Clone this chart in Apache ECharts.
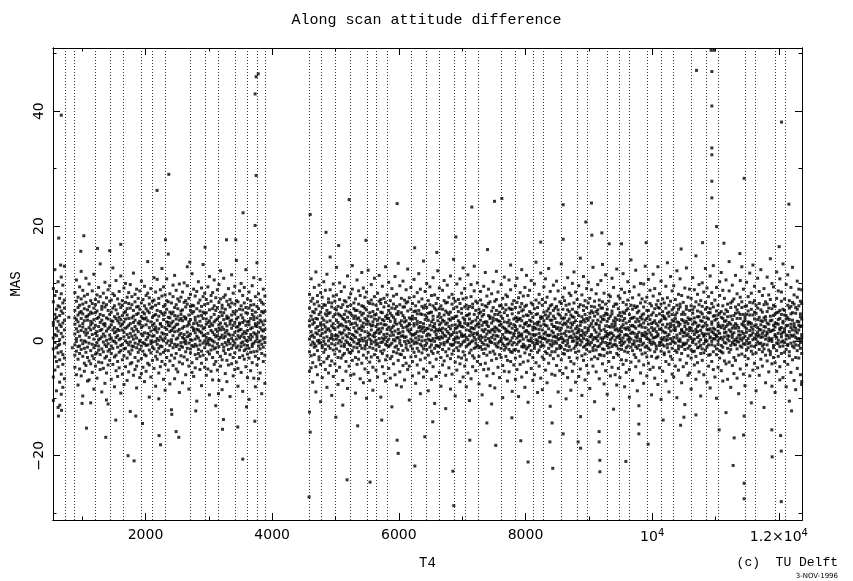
<!DOCTYPE html>
<html>
<head>
<meta charset="utf-8">
<script src="https://cdn.jsdelivr.net/npm/echarts@6/dist/echarts.min.js"></script>
<style>
  html, body { margin: 0; padding: 0; background: #fff; }
  #ec { width: 853px; height: 581px; }
</style>
</head>
<body>
<div id="ec"></div>
<script>
// axis ranges (T4, MAS)
var xMin = 540, xMax = 12365;
var yMin = -31.2, yMax = 51.0;
var xTickLabels = [2000, 4000, 6000, 8000, 10000, 12000];
var yTickLabels = [-20, 0, 20, 40];

// dotted vertical lines (T4)
var orbitLines = [730, 880, 1210, 1450, 1650, 1940, 2110, 2320, 2700, 2940, 3150, 3410, 3610, 3770, 3895,
  4585, 4775, 4995, 5230, 5495, 5650, 5815, 6195, 6425, 6645, 6880, 7045, 7250, 7610, 7840, 8120, 8280,
  8570, 8810, 8975, 9295, 9485, 9645, 9925, 10140, 10335, 10610, 10860, 11040, 11465, 11630, 11940, 12105];

// dense band, one row per T4 column: [T4, MAS, MAS, ...]
var bandA = [
  [545, 3.2, -1.4, 6.8, 0.5, -6.3, 9.1, 2.7, -10.4],
  [570, 1.1, 4.6, -2.8, 7.9, -0.3, 12.4, -5.1, 3.8],
  [595, -3.6, 2.2, 5.5, -8.7, 0.9, 4.1, 8.6, -1.2],
  [620, 6.1, -0.8, 3.4, -4.5, 10.3, 1.7, -2.1, -11.6],
  [645, 0.2, 5.9, -3.3, 2.8, 7.4, -7.2, 4.4, -0.6],
  [670, 2.5, -5.8, 8.2, 1.3, -1.9, 5.2, 11.1, -9.3],
  [695, 4.8, -2.4, 0.7, 6.6, -4.1, 3.1, -8.1, 9.7],
  [720, -0.4, 3.6, -6.6, 7.1, 1.9, -3.0, 5.7, 13.0]
];
var bandB = [
  [885, 2.9, -0.7, 5.3, -4.6, 8.4, 1.2, -2.5, 4.0],
  [910, -1.8, 3.7, 0.4, 6.9, -5.9, 2.1, 10.6, -0.1],
  [935, 4.5, -3.2, 1.6, 7.6, -1.0, 3.3, -7.7, 5.8],
  [960, 0.8, 6.2, -2.2, 2.6, 9.4, -4.9, 4.9, -0.9],
  [985, 3.9, -1.5, 7.3, 0.1, -6.1, 5.1, 1.8, 12.1],
  [1010, -2.7, 2.4, 4.7, -0.5, 8.8, -9.6, 3.0, 6.4],
  [1035, 1.5, 5.6, -3.9, 3.5, -1.3, 7.8, 0.0, -5.3],
  [1060, 6.7, -0.2, 2.0, -4.3, 4.2, 10.9, -2.0, 1.0],
  [1085, -1.1, 4.3, 8.1, 1.4, -7.0, 3.6, 5.4, -2.9],
  [1110, 2.3, -3.5, 6.0, 0.6, 4.6, -0.4, 9.9, -6.8],
  [1135, 5.0, 1.9, -1.7, 7.0, -4.0, 2.8, -10.8, 3.4],
  [1160, -0.6, 6.5, 3.1, -2.6, 1.1, 8.7, -5.5, 4.8],
  [1185, 3.7, -1.2, 0.3, 5.7, -3.1, 11.6, 2.2, -8.4],
  [1210, 1.3, 4.9, -4.4, 2.7, 7.2, -0.8, 6.3, -2.3],
  [1235, -2.1, 0.9, 5.2, 3.9, -6.5, 8.0, 1.6, -0.3],
  [1260, 4.1, -0.9, 2.5, 6.8, -3.7, 0.2, 9.3, -1.6],
  [1285, 0.4, 3.2, -2.4, 7.7, 1.8, -5.0, 4.6, 13.4],
  [1310, 6.0, -1.4, 3.6, -3.8, 0.7, 5.5, -8.9, 2.0],
  [1335, -0.2, 2.9, 8.3, -1.9, 4.4, -4.8, 1.2, 6.6],
  [1360, 3.0, -3.0, 0.8, 5.9, -0.7, 10.2, 2.6, -7.4],
  [1385, 1.7, 6.3, -2.7, 4.0, -5.6, 0.1, 7.5, -1.0],
  [1410, 5.3, -0.5, 2.1, -4.2, 8.9, 3.8, -1.8, -11.0],
  [1435, -1.5, 4.6, 1.0, 6.9, -3.4, 2.4, 9.6, 0.3],
  [1460, 2.8, -2.2, 5.0, 0.5, -6.7, 3.5, 7.1, -0.9],
  [1485, 0.0, 3.4, -4.1, 8.2, 1.9, -1.3, 5.7, 12.7],
  [1510, 4.2, -0.1, 6.1, -2.8, 2.3, -8.0, 1.4, 7.9],
  [1535, -2.5, 1.6, 3.9, 5.4, -5.2, 0.6, 10.5, -0.4],
  [1560, 3.5, 7.3, -1.1, 2.0, -3.6, 4.7, -6.2, 0.9],
  [1585, 6.4, 0.2, -2.0, 4.1, 8.6, -4.7, 1.8, 3.1],
  [1610, -0.8, 2.6, 5.8, -1.7, 0.4, 11.3, -9.1, 3.7],
  [1635, 1.9, -3.3, 4.4, 7.0, -0.6, 2.9, -5.8, 6.2],
  [1660, 4.9, 0.7, -2.6, 3.3, 9.2, -1.4, 1.5, -7.6],
  [1685, -1.3, 5.1, 2.2, -4.5, 6.7, 0.0, 3.8, 10.0],
  [1710, 2.4, -0.3, 7.6, 1.1, -3.0, 4.5, -6.9, 5.6],
  [1735, 0.6, 3.9, -1.9, 6.5, -5.4, 2.7, 8.4, -0.7],
  [1760, 5.7, -2.3, 1.3, 3.0, -0.2, 9.8, -4.0, -12.3],
  [1785, -0.9, 4.0, 6.3, 0.8, -3.8, 2.1, 7.7, -1.6],
  [1810, 3.2, -1.0, 0.3, 5.3, -6.0, 4.3, 11.8, 1.7],
  [1835, 1.0, 6.8, -2.9, 3.6, -0.4, 8.1, -5.0, 2.5],
  [1860, 4.6, -4.4, 2.0, -1.2, 5.9, 0.5, 9.0, -8.2],
  [1885, -2.0, 3.1, 7.4, 1.6, -0.6, 4.8, -3.5, 6.0],
  [1910, 0.1, 5.5, -1.5, 2.9, 8.7, -6.4, 3.4, -0.1],
  [1935, 6.6, 1.2, -3.1, 4.2, -0.9, 10.4, 2.3, -5.7],
  [1960, 2.6, -1.8, 5.0, -0.3, 7.2, -4.6, 0.9, 3.9],
  [1985, -0.5, 3.8, 1.4, 6.1, -2.4, 9.5, -7.1, 4.7],
  [2010, 4.0, -2.6, 7.9, 0.2, 2.8, -5.3, 5.6, -0.8],
  [2035, 1.3, 5.2, -0.7, 3.5, -3.9, 8.3, 0.6, 13.8],
  [2060, -1.6, 2.3, 6.4, -4.2, 4.9, 1.0, -9.8, 7.5],
  [2085, 3.3, 0.0, -2.1, 5.7, 1.7, -0.5, 9.1, -6.3],
  [2110, 5.9, -1.1, 2.7, -3.4, 0.8, 6.9, 4.1, -0.2],
  [2135, 0.9, 4.4, -4.8, 7.1, 2.0, -1.4, 11.0, 3.0],
  [2160, -0.1, 6.2, 1.9, -2.7, 4.6, -7.9, 8.5, 2.4],
  [2185, 3.6, -0.6, 5.3, 0.4, -3.2, 10.7, 1.5, -1.9],
  [2210, 2.1, 7.4, -1.3, 4.3, -5.6, 0.1, 6.5, -10.1],
  [2235, -2.3, 3.0, 0.7, 8.9, 5.1, -0.9, 2.9, -4.5],
  [2260, 4.8, 1.4, -3.6, 2.5, 7.8, -1.0, 12.6, 0.3],
  [2285, 1.2, -2.0, 6.0, 3.7, -6.7, 4.5, 0.0, 9.4],
  [2310, 6.3, 0.5, -1.6, 4.9, 2.3, -4.1, 8.0, -8.6],
  [2335, -0.4, 3.3, 7.0, 1.1, -2.9, 5.5, 10.8, 2.0],
  [2360, 2.7, -1.7, 4.1, 0.0, 6.8, -5.1, 3.2, 15.1],
  [2385, 5.0, 1.6, -0.8, 8.2, -3.5, 2.6, -7.5, 4.0],
  [2410, 0.2, 4.7, -2.5, 3.1, 6.6, -0.3, 1.8, -12.0],
  [2435, 3.4, -1.2, 7.7, 0.9, -4.3, 5.0, 9.7, 2.2],
  [2460, 1.6, 5.8, -3.0, 2.4, -0.6, 4.4, -6.6, 11.4],
  [2485, -1.0, 2.8, 6.3, 0.3, 3.8, -2.2, 8.8, -4.9],
  [2510, 4.3, -0.7, 1.7, 5.6, -5.4, 2.9, 0.5, 7.3],
  [2535, 2.0, 6.9, -1.5, 3.6, -3.7, 9.9, 1.0, -9.0],
  [2560, -0.3, 3.9, 5.2, -2.6, 1.3, 7.6, -0.9, 4.6],
  [2585, 5.4, 0.6, -4.0, 2.2, 8.5, -1.1, 3.5, -7.3],
  [2610, 1.1, 4.2, 6.7, -0.2, -2.8, 10.1, 2.5, 0.4],
  [2635, 3.8, -1.9, 0.0, 5.9, -5.9, 4.0, 7.0, -0.5],
  [2660, 0.7, 2.6, -3.3, 6.4, 1.5, -1.3, 9.6, 12.9],
  [2685, 4.5, -0.4, 2.9, -4.4, 7.4, 0.9, -8.4, 3.3],
  [2710, -1.4, 5.3, 1.2, 3.7, -2.1, 8.1, 0.2, 6.0],
  [2735, 2.4, -3.8, 6.2, 0.1, 4.8, -0.8, 11.7, -5.5],
  [2760, 6.1, 1.8, -1.0, 3.0, -6.2, 2.1, 5.1, 9.0],
  [2785, 0.3, 4.1, -2.4, 7.8, 1.4, -4.7, 3.6, -0.6],
  [2810, 3.1, -0.9, 5.6, 2.0, -3.1, 8.6, -10.5, 0.8],
  [2835, -2.2, 2.7, 0.5, 6.6, 4.3, -1.5, 10.3, 1.9],
  [2860, 5.2, 0.0, 3.4, -5.0, 1.6, 7.1, -0.7, -2.7],
  [2885, 1.4, 6.0, -1.8, 4.4, -3.9, 2.6, 9.2, -7.8],
  [2910, 3.9, -2.5, 0.9, 5.0, 7.7, -0.4, 2.1, 13.3],
  [2935, 0.0, 4.8, -4.6, 2.3, 6.3, 1.0, -1.2, 8.3],
  [2960, 2.9, -0.6, 7.2, -3.2, 0.6, 4.9, -6.0, 3.8],
  [2985, 6.5, 1.3, -1.9, 3.2, -4.9, 9.4, 0.1, -0.3],
  [3010, -0.7, 3.5, 5.4, 0.4, 2.5, -2.3, 11.2, -9.4],
  [3035, 4.1, -1.6, 1.8, 6.9, -5.3, 3.0, 7.9, 0.2],
  [3060, 1.5, 5.6, -2.9, 2.7, 0.0, -0.9, 8.4, -6.8],
  [3085, 3.3, -0.2, 6.1, -4.1, 4.6, 1.1, 10.6, -1.4],
  [3110, -1.2, 2.0, 0.7, 7.5, -3.6, 5.3, 3.6, -11.3],
  [3135, 5.8, 0.9, -2.0, 3.8, 8.9, -0.5, 1.6, -5.1],
  [3160, 2.2, 6.7, -1.0, 4.2, -6.9, 0.3, 9.8, 2.8],
  [3185, 0.6, -2.7, 5.0, 1.9, 3.1, -4.4, 7.3, 12.2],
  [3210, 4.4, 1.0, -0.6, 6.2, -3.3, 2.4, -8.5, 5.7],
  [3235, -1.7, 3.7, 7.6, 0.5, 2.0, -1.1, 4.9, 10.9],
  [3260, 3.0, -0.3, 1.4, 5.5, -5.7, 8.0, 0.8, -2.2],
  [3285, 1.8, 4.3, -3.4, 2.6, 6.9, -0.7, -7.1, 3.9],
  [3310, 6.3, -1.5, 0.2, 4.0, 1.2, 9.1, -4.2, -0.1],
  [3335, -0.5, 2.9, 5.9, -2.4, 3.4, 7.2, 1.0, -9.7],
  [3360, 3.6, 0.4, -1.3, 6.6, -4.0, 2.2, 11.5, 4.5],
  [3385, 1.0, 5.1, 2.7, -0.8, 8.3, -6.1, 0.0, -2.9],
  [3410, 4.7, -2.1, 3.2, 1.5, -0.4, 6.4, -5.0, 9.5],
  [3435, 0.3, 3.8, -3.7, 7.0, 2.4, -1.2, 5.2, 14.0],
  [3460, 2.5, -0.9, 6.8, 0.9, 4.1, -4.8, 1.7, -7.9],
  [3485, 5.5, 1.9, -1.6, 3.1, -2.9, 8.7, 0.5, 2.9],
  [3510, -1.0, 4.5, 0.8, 6.1, -5.5, 2.0, 10.0, -0.4],
  [3535, 3.2, -2.6, 5.4, 1.2, 7.9, -0.2, -8.8, 4.0],
  [3560, 1.6, 6.6, -0.7, 3.5, -3.2, 0.6, 9.3, -1.7],
  [3585, 4.9, 0.1, -4.5, 2.7, 5.8, -1.4, 12.4, 1.3],
  [3610, 0.0, 3.3, 7.3, -2.3, 1.8, 4.8, -6.4, -0.8],
  [3635, 2.8, -1.3, 0.6, 5.7, -3.0, 8.5, 3.4, -10.2],
  [3660, 6.2, 1.1, -2.0, 3.9, 0.2, -5.2, 7.0, 2.1],
  [3685, -0.6, 4.6, 2.3, -1.0, 9.6, 0.7, -3.8, 5.3],
  [3710, 3.7, -0.4, 6.3, 1.4, -6.5, 4.2, 11.0, -1.9],
  [3735, 1.2, 5.0, -2.7, 2.6, 7.7, -0.1, 3.0, -8.0],
  [3760, 4.0, -1.8, 0.9, 6.0, -4.2, 2.5, 13.6, 0.4],
  [3785, -0.2, 3.1, 5.6, -3.1, 1.5, 8.2, -0.9, -6.6],
  [3810, 2.3, 7.1, -1.4, 4.4, 0.0, -5.6, 10.7, 3.6],
  [3835, 5.1, 0.8, 3.3, -2.2, 6.7, -0.6, -9.2, 1.9],
  [3860, 1.7, -3.6, 4.9, 0.3, 2.8, 9.0, -1.1, 6.4],
  [3885, 3.5, 0.6, -0.3, 5.2, -7.4, 2.0, 7.8, -2.5]
];
var bandC = [
  [4590, 2.6, -1.9, 5.7, 0.3, -5.3, 8.1, 3.5, -12.4],
  [4615, 0.8, 4.3, -2.6, 6.9, 1.6, -0.7, 10.8, -4.7],
  [4640, 5.1, -0.2, 2.9, -3.8, 7.4, 1.0, -7.2, 3.7],
  [4665, -1.1, 3.2, 6.4, 0.6, -2.4, 4.9, 9.3, -0.5],
  [4690, 3.9, 1.4, -4.5, 5.5, -0.9, 2.2, 12.0, -8.9],
  [4715, 1.2, 6.8, 0.0, -1.7, 3.8, -5.9, 7.9, 2.5],
  [4740, 4.6, -2.8, 1.8, 6.1, -0.4, 9.7, -3.3, 0.1],
  [4765, -0.3, 2.7, 5.0, -4.1, 3.1, 0.9, 8.4, -10.6],
  [4790, 2.0, -1.2, 7.6, 4.0, -6.4, 1.3, 5.8, -0.8],
  [4815, 6.3, 0.5, -2.0, 2.8, 10.3, -3.7, 3.6, -0.1],
  [4840, 1.5, 4.7, -0.6, -5.0, 6.2, 2.4, -1.5, 8.8],
  [4865, 3.3, -3.1, 0.7, 5.3, 1.9, -8.1, 11.6, 4.4],
  [4890, -0.9, 2.1, 6.7, 0.0, -2.7, 4.8, 7.3, -5.6],
  [4915, 4.9, 1.7, -1.3, 3.5, 8.9, -4.3, 0.4, 14.6],
  [4940, 0.6, 5.9, 2.6, -0.5, -3.5, 6.6, -9.5, 1.1],
  [4965, 3.0, -1.6, 4.2, 7.8, 0.2, -6.2, 2.3, 9.9],
  [4990, 5.6, 0.9, -2.3, 2.0, -0.7, 4.6, 6.9, -4.0],
  [5015, -1.4, 3.6, 1.0, 5.4, -5.2, 8.0, 0.3, 12.8],
  [5040, 2.4, -0.4, 6.0, 3.2, -2.9, 0.8, -7.6, 4.7],
  [5065, 0.1, 4.5, -1.8, 7.2, 2.7, -4.6, 10.1, 1.5],
  [5090, 4.3, 1.2, 5.8, -0.9, -3.0, 2.9, 8.6, -0.2],
  [5115, -2.5, 2.6, 0.5, 6.3, 3.9, -6.9, 1.4, -11.2],
  [5140, 3.7, -1.0, 4.6, 1.9, 7.0, -2.2, -0.6, 9.4],
  [5165, 1.0, 5.2, -3.6, 2.5, 0.0, 6.8, -5.3, 3.3],
  [5190, 6.0, -0.3, 2.2, -1.5, 4.1, 11.3, -8.3, 0.7],
  [5215, -0.6, 3.4, 7.5, 1.3, -4.4, 5.0, 2.0, -2.0],
  [5240, 2.9, 0.4, -2.1, 4.8, 8.2, -0.8, 6.2, -6.0],
  [5265, 4.4, -1.7, 1.1, 3.0, -3.4, 9.0, 0.2, 13.1],
  [5290, 0.9, 5.6, -0.2, 6.6, -5.8, 2.3, 3.9, -1.1],
  [5315, 3.1, -2.9, 4.3, 0.6, 7.3, 1.7, -9.1, 5.3],
  [5340, 5.3, 1.5, -1.2, 2.7, -0.5, 10.6, -4.1, 3.8],
  [5365, -1.9, 4.0, 6.4, 0.2, 2.1, -3.2, 8.7, -0.4],
  [5390, 2.2, -0.8, 3.5, 7.9, -6.6, 1.0, 5.0, 0.0],
  [5415, 0.4, 6.1, -3.9, 4.5, 1.8, -1.3, 11.9, 2.6],
  [5440, 4.8, 0.0, 2.4, -2.5, 6.0, -7.3, 3.1, 9.2],
  [5465, 1.6, 3.9, -1.4, 5.7, -4.9, 0.5, 7.6, -0.9],
  [5490, -0.1, 5.4, 2.9, -0.6, 8.5, 3.6, -3.0, -10.0],
  [5515, 3.4, -2.0, 0.8, 6.8, 1.4, -5.5, 4.3, 12.3],
  [5540, 6.5, 1.1, -1.1, 2.9, -3.7, 4.9, 0.3, -6.9],
  [5565, 0.0, 4.2, 7.1, -2.8, 2.6, 9.8, -0.5, 1.9],
  [5590, 2.7, -1.3, 5.1, 0.9, -4.6, 3.3, -8.6, 6.4],
  [5615, 4.5, 0.7, -0.2, 3.8, 7.7, -2.4, 10.9, 1.3],
  [5640, -1.6, 2.5, 6.2, 0.1, -5.1, 4.6, 1.5, -0.7],
  [5665, 3.6, -0.5, 1.9, 5.5, -2.9, 8.3, -6.3, 2.9],
  [5690, 1.3, 6.9, -3.5, 2.1, 0.4, 4.0, -1.0, 11.4],
  [5715, 5.0, -1.8, 3.0, -0.3, 6.5, 1.6, -9.8, 7.2],
  [5740, 0.5, 3.7, -2.2, 4.9, -4.5, 2.2, 9.5, -0.2],
  [5765, 2.8, 0.2, 5.9, -1.6, 1.1, 7.4, -5.7, 3.5],
  [5790, 4.2, -3.3, 0.6, 6.7, 2.8, -0.6, 12.9, -7.0],
  [5815, -0.8, 2.0, 4.5, 1.2, -2.6, 8.0, 3.9, -0.1],
  [5840, 3.9, 5.3, -1.0, 0.3, 6.1, -4.8, 2.4, 10.2],
  [5865, 1.9, -0.7, 7.0, 3.4, -3.1, 0.9, -6.5, 4.8],
  [5890, 5.7, 2.3, -2.7, 1.5, 4.4, -0.4, 9.1, -11.5],
  [5915, 0.2, 4.1, 1.0, -1.9, 6.4, 2.6, -4.0, 7.8],
  [5940, 3.2, -1.1, 5.6, 0.0, -5.9, 3.7, 11.2, 1.7],
  [5965, -2.1, 2.9, 0.5, 4.7, 8.1, -0.9, 6.0, -7.7],
  [5990, 4.6, 0.6, -3.4, 2.0, 5.1, 1.3, -1.5, 13.5],
  [6015, 1.4, 6.3, -0.4, 3.1, -2.3, 9.6, 0.1, -5.4],
  [6040, 3.5, -2.4, 2.7, 7.4, -0.8, 4.9, -8.0, 0.8],
  [6065, 0.9, 4.4, -1.7, 1.6, 5.9, -4.3, 10.4, 2.3],
  [6090, 5.9, -0.1, 3.3, -2.9, 0.6, 7.1, -6.8, 4.0],
  [6115, -1.2, 2.4, 6.6, 0.7, -3.9, 3.5, 8.9, -0.6],
  [6140, 2.6, 0.0, -1.6, 5.2, 1.9, -5.0, 12.5, 6.8],
  [6165, 4.0, 1.6, -4.4, 2.8, 7.5, -0.3, -10.3, 3.0],
  [6190, 0.3, 5.5, 2.0, -0.9, 3.8, 9.3, -2.8, 1.2],
  [6215, 3.8, -1.4, 6.5, 1.0, -6.1, 4.3, 0.0, -3.6],
  [6240, 1.1, 3.0, -0.5, 7.7, 2.6, -2.0, 10.7, 5.1],
  [6265, 5.2, -2.7, 1.3, 3.9, -0.2, 6.1, -7.4, 0.5],
  [6290, -0.4, 4.7, 2.9, -4.2, 1.6, 8.4, 3.4, -1.3],
  [6315, 2.3, 0.8, 5.3, -1.8, 6.8, -5.6, 0.2, 11.7],
  [6340, 4.7, -0.6, 1.7, 3.2, -3.3, 2.5, 9.0, -9.2],
  [6365, 0.7, 6.0, -2.1, 4.6, 0.0, 7.3, -0.9, 2.1],
  [6390, 3.0, 1.5, -4.9, 2.4, 5.7, -1.4, 13.9, -6.3],
  [6415, 6.2, -0.8, 3.7, 0.1, 8.6, -3.0, 1.8, 4.5],
  [6440, -1.5, 2.2, 0.9, 5.8, -0.4, 4.1, -5.3, 10.0],
  [6465, 2.1, 4.8, -2.5, 1.2, 7.0, 0.3, -8.7, 3.6],
  [6490, 4.9, 0.1, 6.3, -1.1, 2.7, -3.8, 9.4, 1.0],
  [6515, 0.0, 3.3, -0.7, 5.0, -6.7, 1.9, 7.9, -1.8],
  [6540, 3.7, -2.2, 2.5, 0.4, 4.3, 11.0, -4.5, 6.1],
  [6565, 1.6, 5.7, -1.3, 3.0, -0.1, 8.0, -10.9, 2.4],
  [6590, 5.4, 0.5, 2.0, -3.2, 6.5, -0.8, 1.1, -6.2],
  [6615, -0.9, 4.2, 7.4, 1.7, -2.0, 3.5, 12.2, 0.6],
  [6640, 2.8, -1.0, 0.3, 4.7, -5.5, 9.2, 2.0, 5.6],
  [6665, 4.1, 1.8, -2.9, 6.1, 0.7, -0.5, -7.9, 3.1],
  [6690, 0.5, 3.6, 5.5, -1.5, 2.2, 8.8, -4.2, 1.4],
  [6715, 3.4, -0.3, 1.0, 7.0, -3.5, 4.5, 10.5, -0.7],
  [6740, 6.6, 2.0, -1.9, 2.9, -6.0, 0.8, 5.2, -11.8],
  [6765, -0.2, 4.9, 3.1, 0.0, 6.7, -2.6, 9.7, 1.6],
  [6790, 2.5, -1.4, 4.6, 1.3, -4.7, 7.6, 0.4, 3.8],
  [6815, 5.0, 0.9, -0.6, 3.6, 2.1, -3.1, 11.3, -8.4],
  [6840, 1.1, 6.4, -2.3, 4.0, -0.8, 2.7, 8.1, -5.8],
  [6865, 3.9, -0.6, 0.2, 5.6, 1.5, -1.7, 14.2, 7.4],
  [6890, 0.4, 2.8, 6.9, -3.7, 4.2, -0.2, -9.6, 2.1],
  [6915, 4.3, 1.4, -1.2, 2.3, 9.9, -5.1, 0.7, 5.9],
  [6940, -1.7, 3.5, 5.1, 0.5, -2.8, 7.2, 2.6, -0.3],
  [6965, 2.9, -0.9, 1.6, 6.5, -4.0, 3.2, 10.8, -7.1],
  [6990, 5.6, 2.5, -3.0, 0.8, 4.8, -0.6, 8.3, 1.2],
  [7015, 0.8, 4.0, -0.2, 7.3, -6.3, 2.4, -1.9, 12.7],
  [7040, 3.1, -2.5, 5.9, 1.0, 3.7, -4.4, 0.0, 9.1],
  [7065, 1.9, 6.2, -1.0, 4.4, -3.3, 0.6, 7.5, -8.0],
  [7090, 4.5, 0.2, 2.7, -0.7, 5.6, -5.6, 11.5, 3.0],
  [7115, -0.5, 3.8, 0.9, 6.0, -2.1, 4.7, 1.8, -10.4],
  [7140, 2.3, -1.6, 7.7, 1.5, 3.1, -0.2, -6.6, 9.8],
  [7165, 5.8, 1.0, -2.6, 3.4, 0.0, 6.4, -4.5, 2.2],
  [7190, 0.6, 4.6, 2.1, -1.3, 8.7, -3.0, 1.3, 13.0],
  [7215, 3.6, -0.4, 5.3, 0.2, -5.2, 2.6, 6.9, -1.1],
  [7240, 1.4, 2.9, -3.6, 6.6, 1.1, -0.8, 10.1, 4.1],
  [7265, 4.8, -1.2, 0.5, 3.0, -7.5, 5.5, 2.4, -2.7],
  [7290, -1.0, 5.0, 3.6, 0.9, 7.1, -4.1, 0.1, 8.6],
  [7315, 2.7, 0.6, -1.5, 4.3, -0.3, 6.3, -9.4, 1.9],
  [7340, 5.3, 3.2, -2.2, 1.6, 9.5, -0.6, 4.6, -5.0],
  [7365, 0.1, 2.0, 6.1, -3.9, 3.3, 0.7, -1.4, 11.9],
  [7390, 3.3, -0.7, 1.2, 5.9, -2.5, 7.8, -6.1, 2.8],
  [7415, 1.7, 4.4, -0.9, 2.5, 0.4, -4.9, 9.0, 6.5],
  [7440, 4.2, -2.0, 6.8, 0.0, 3.9, -0.2, -7.8, 1.5],
  [7465, -0.3, 3.1, 1.9, 5.2, -3.4, 8.2, 0.6, -11.0],
  [7490, 2.0, 5.8, -1.8, 3.5, 1.0, -5.7, 10.3, 4.0],
  [7515, 4.6, 0.3, 2.4, -0.5, 6.9, -2.3, 1.6, -8.2],
  [7540, 0.9, 3.7, -3.1, 7.2, 2.2, -0.9, 5.3, 12.1],
  [7565, 3.5, -1.1, 0.8, 4.6, -4.6, 1.9, 8.5, -0.4],
  [7590, 6.1, 1.7, -2.4, 2.7, -0.1, 5.0, -6.4, 3.4],
  [7615, -1.3, 4.3, 6.2, 0.4, -2.9, 2.9, 9.8, 0.0],
  [7640, 2.4, -0.5, 3.9, 1.1, 7.4, -4.3, -9.9, 5.7],
  [7665, 4.9, 2.2, -1.6, 0.6, 3.3, -0.8, 11.1, -5.3],
  [7690, 0.3, 5.4, 1.5, -2.7, 6.3, 2.0, -1.2, 8.0],
  [7715, 3.2, -3.4, 4.4, 0.3, -0.6, 7.7, 1.7, -7.0],
  [7740, 1.5, 2.6, -0.4, 5.7, -5.4, 3.6, 10.6, -1.5],
  [7765, 5.5, 0.0, 3.0, -1.9, 1.4, 8.9, -3.6, 13.2],
  [7790, -0.7, 4.7, 2.2, 6.4, -2.0, 0.5, 5.5, -8.8],
  [7815, 2.8, 1.3, -4.2, 3.8, 7.0, -0.3, 0.9, -1.6],
  [7840, 4.0, -1.5, 5.8, 1.8, -3.0, 9.6, 2.5, -6.7],
  [7865, 0.5, 3.4, -0.6, 6.7, 2.0, -5.0, 4.0, 10.9],
  [7890, 3.7, -0.2, 1.4, 4.9, -1.8, 7.5, -9.7, 0.8],
  [7915, 1.0, 5.9, -2.7, 2.6, 0.0, 3.9, 8.4, -4.1],
  [7940, 5.2, 0.8, 3.5, -1.0, 6.5, -6.3, 1.2, 12.4],
  [7965, -1.1, 2.3, 0.3, 5.4, -3.7, 4.3, 7.8, -0.6],
  [7990, 3.0, -2.1, 6.0, 1.6, 2.9, -0.9, -8.1, 9.3],
  [8015, 1.8, 4.5, -1.4, 3.2, -5.5, 0.7, 11.4, 6.2],
  [8040, 4.4, 0.1, 2.6, -3.5, 7.9, 1.5, -1.1, -10.7],
  [8065, 0.0, 5.1, -0.8, 3.6, 1.2, -2.4, 8.8, 2.7],
  [8090, 3.4, -1.7, 4.8, 0.5, -4.8, 6.6, 0.0, 10.5],
  [8115, 6.3, 1.9, -0.3, 2.4, -2.9, 4.1, -6.9, 1.1],
  [8140, -0.8, 3.0, 5.6, 0.9, 2.3, -1.3, 9.9, -5.9],
  [8165, 2.1, -0.4, 1.1, 7.1, -3.8, 4.6, 0.2, 13.7],
  [8190, 4.7, 2.8, -2.0, 0.0, 5.8, -0.5, -9.0, 3.2],
  [8215, 1.3, 6.6, 3.3, -1.6, 0.6, 8.1, -4.4, 2.0],
  [8240, 3.9, -1.0, 0.7, 4.2, -6.5, 2.6, 11.8, -0.2],
  [8265, 0.4, 4.1, -2.8, 6.2, 1.9, -0.7, 7.2, -8.5],
  [8290, 5.0, 1.2, -0.9, 3.5, -3.2, 9.4, 0.4, 2.9],
  [8315, -1.9, 2.7, 6.7, 0.3, 4.5, -5.1, 1.5, 10.8],
  [8340, 2.6, -0.2, 3.9, -2.2, 7.6, 1.0, -7.3, 5.2],
  [8365, 4.3, 0.9, -1.3, 5.6, 2.1, -3.9, 12.6, 0.1],
  [8390, 1.0, 3.6, 6.1, -0.6, -2.5, 4.8, 8.6, -11.4],
  [8415, 3.6, -1.9, 1.7, 2.9, -5.8, 0.0, 6.3, -0.9],
  [8440, 0.7, 5.3, -0.5, 4.3, 1.4, -3.1, 9.7, 2.5],
  [8465, 5.7, -0.1, 2.5, -1.9, 7.3, 0.8, -6.0, 3.9],
  [8490, -0.4, 3.2, 0.6, 6.0, -4.3, 2.1, 10.4, -1.4],
  [8515, 2.3, 1.1, -2.6, 4.7, 0.2, 8.7, -8.9, 5.4],
  [8540, 4.5, -1.3, 3.1, 0.4, -0.8, 6.8, 1.8, -5.2],
  [8565, 1.2, 6.5, -3.3, 2.2, 4.0, -1.1, 13.4, 0.6],
  [8590, 3.8, 0.3, 5.5, -0.3, -5.7, 2.8, 7.6, -2.2],
  [8615, -1.5, 4.0, 1.3, 7.0, -2.3, 0.0, 9.2, 3.1],
  [8640, 2.9, -0.8, 4.6, 1.7, 6.2, -4.7, -10.1, 0.9],
  [8665, 5.4, 2.4, -1.7, 0.1, 3.4, -0.4, 11.0, -6.4],
  [8690, 0.6, 3.8, 6.4, -2.9, 1.6, 5.1, -1.0, 8.3],
  [8715, 3.1, -1.6, 0.8, 4.5, -3.6, 7.9, 2.3, -8.6],
  [8740, 1.7, 5.5, -0.1, 2.8, 0.5, -5.3, 10.0, 4.2],
  [8765, 4.1, 0.0, 3.2, -1.3, 6.6, 1.2, -4.0, 12.0],
  [8790, -0.9, 2.1, 5.0, 0.7, -2.0, 8.5, 3.5, -7.2],
  [8815, 2.5, 4.9, -3.0, 1.4, 7.2, -0.6, 0.3, -0.3],
  [8840, 5.9, 0.5, 2.0, -1.8, 4.4, -6.2, 9.6, 1.6],
  [8865, 0.1, 3.3, -0.7, 6.3, -4.9, 2.7, 1.0, 14.4],
  [8890, 3.3, -2.6, 4.2, 0.9, 1.8, -0.2, 8.0, -9.5],
  [8915, 1.4, 6.1, -1.1, 3.7, -3.4, 5.3, 0.4, 11.2],
  [8940, 4.6, 1.0, -2.3, 2.3, 7.0, -0.9, -6.8, 3.3],
  [8965, -0.6, 3.9, 1.5, 5.8, -1.5, 9.1, -4.3, 0.2],
  [8990, 2.2, -0.4, 6.6, 0.0, 3.6, -5.6, 10.2, 1.8],
  [9015, 4.8, 2.6, -1.9, 4.1, -0.7, 7.4, -8.3, 0.7],
  [9040, 0.8, 5.2, 3.0, -3.2, 1.1, -0.3, 8.9, 6.0],
  [9065, 3.5, -1.2, 0.2, 4.9, -4.4, 2.4, 12.8, -1.7],
  [9090, 1.9, 4.3, -0.8, 6.9, 0.6, -2.8, 5.9, -10.6],
  [9115, 5.1, 0.4, 2.9, -1.6, 8.2, 1.5, -5.4, 3.0],
  [9140, -1.0, 3.6, 5.4, 0.8, -3.1, 4.7, 9.8, 0.0],
  [9165, 2.7, -0.9, 1.2, 6.2, 2.2, -6.6, 7.1, -2.4],
  [9190, 4.2, 1.8, -2.5, 3.3, -0.5, 10.5, 0.5, 5.7],
  [9215, 0.3, 5.7, 3.8, -1.4, 6.8, -4.0, -0.2, 13.3],
  [9240, 3.7, -1.5, 0.6, 4.4, -2.6, 8.3, 2.0, -7.5],
  [9265, 1.6, 4.8, -0.3, 2.6, 0.9, -5.2, 11.5, 6.4],
  [9290, 5.5, 0.7, 3.4, -2.1, 4.6, -0.8, -9.3, 1.3],
  [9315, -0.5, 2.5, 6.9, 1.1, -3.6, 3.9, 8.0, -1.2],
  [9340, 2.4, -2.0, 4.3, 0.2, 7.7, -0.4, 1.4, -6.1],
  [9365, 4.7, 1.3, -1.0, 5.2, -4.6, 2.9, 10.9, 0.5],
  [9390, 0.9, 3.5, 6.0, -0.7, 2.4, -2.9, 9.3, -11.9],
  [9415, 3.2, -0.6, 1.9, 4.0, -5.9, 6.4, 0.1, 2.7],
  [9440, 6.4, 2.1, -2.2, 0.6, 3.7, -0.9, -7.7, 12.5],
  [9465, -1.4, 4.4, 0.8, 5.6, -2.5, 1.7, 7.8, -4.8],
  [9490, 2.0, -0.3, 3.6, 7.4, 0.4, -6.4, 4.9, 1.0],
  [9515, 4.3, 1.6, -1.5, 2.4, 9.0, -3.3, 0.0, -0.8],
  [9540, 0.5, 5.0, 2.8, -0.5, -4.1, 6.7, 11.7, 3.5],
  [9565, 3.9, -1.8, 1.0, 4.8, -0.2, 8.4, -8.0, 2.2],
  [9590, 1.1, 3.1, -3.4, 6.3, 2.0, -1.2, 5.3, -5.5],
  [9615, 5.6, 0.2, 2.3, -0.9, 7.1, -2.0, 10.3, 0.9],
  [9640, -0.2, 4.6, 0.5, 3.4, -5.0, 1.9, 8.6, -9.8],
  [9665, 2.6, -1.1, 6.2, 1.3, 3.9, -3.7, 0.3, 14.1],
  [9690, 4.0, 2.7, -1.7, 5.5, -0.6, 7.5, -6.9, 1.5],
  [9715, 1.3, -0.5, 4.1, 0.0, 2.5, -2.4, 9.4, 6.1],
  [9740, 3.3, 5.8, -2.9, 2.2, 0.7, -4.5, 12.3, -1.0],
  [9765, 6.0, 1.1, 0.0, 3.8, -1.3, 4.9, -8.7, 0.6],
  [9790, -0.8, 3.4, 5.2, 1.5, -3.5, 8.0, 2.6, -11.3],
  [9815, 2.8, 0.3, -1.6, 6.6, 4.1, -0.1, -5.6, 10.0],
  [9840, 4.5, -2.3, 2.4, 0.9, 7.3, -0.7, 1.3, 3.8],
  [9865, 1.0, 4.7, -0.4, 3.1, -4.2, 5.9, 9.9, -7.4],
  [9890, 3.6, 1.5, 6.8, -2.1, 0.8, 2.3, -1.1, 13.0],
  [9915, 0.4, -0.9, 3.9, 5.3, -6.1, 1.2, 7.6, -2.8],
  [9940, 5.3, 2.9, -1.3, 0.3, 4.3, -3.9, 10.7, 1.9],
  [9965, -1.6, 3.7, 1.4, 6.5, -0.3, 8.8, -5.0, 0.1],
  [9990, 2.3, -0.6, 4.5, 1.0, -2.7, 6.1, -9.4, 3.0],
  [10015, 4.9, 1.8, -0.2, 3.2, 7.8, -4.6, 0.5, 11.6],
  [10040, 0.6, 5.6, 2.1, -1.9, 3.5, -0.5, 9.1, -6.5],
  [10065, 3.0, -1.4, 6.3, 0.7, -3.0, 4.4, 1.6, -0.9],
  [10090, 5.8, 0.9, -2.8, 2.6, 1.2, 7.0, -7.6, 12.9],
  [10115, -0.3, 3.3, 4.7, -0.8, 5.7, 2.0, -4.7, 8.2],
  [10140, 2.1, 6.4, 0.4, 3.6, -1.8, -0.2, 10.4, -10.2],
  [10165, 4.4, -0.7, 1.7, 5.1, -5.3, 2.8, 7.3, 0.2],
  [10190, 1.5, 3.9, -2.4, 0.6, 6.6, -0.9, 4.2, -2.1],
  [10215, 3.8, 0.1, 5.7, -3.6, 2.4, 9.5, -7.0, 1.4],
  [10240, 0.2, 4.8, 2.9, -1.2, 7.5, 0.8, -0.6, 13.6],
  [10265, 5.0, -1.9, 1.1, 4.3, -4.1, 6.2, 2.2, -8.9],
  [10290, 2.5, 3.0, -0.5, 6.9, 0.4, -2.7, 11.2, 1.7],
  [10315, -1.3, 5.4, 3.6, 0.0, -3.2, 4.6, 8.7, -5.8],
  [10340, 3.4, -0.2, 1.9, 5.8, 2.7, -6.3, 0.6, 9.6],
  [10365, 1.8, 4.5, -1.7, 2.3, -0.4, 7.2, -4.4, 3.9],
  [10390, 6.2, 0.5, 3.3, -2.0, 4.9, 1.0, -9.9, 12.2],
  [10415, 0.0, 2.6, -0.9, 5.5, -5.1, 3.2, 8.1, -1.4],
  [10440, 2.9, 5.9, 1.3, -3.3, 6.4, -0.1, 10.8, 0.3],
  [10465, 4.6, -1.0, 2.0, 3.7, -2.2, 7.9, -7.3, 1.8],
  [10490, -0.7, 3.5, 6.7, 0.8, 1.5, -4.5, 5.0, -0.4],
  [10515, 3.1, 1.4, -1.5, 4.6, 9.2, -0.6, 2.5, -11.1],
  [10540, 5.5, -0.4, 0.9, 2.0, -3.9, 6.0, 12.7, 3.4],
  [10565, 1.2, 4.0, -2.6, 7.6, 0.1, -1.3, 3.0, -6.0],
  [10590, 3.7, 2.3, 5.3, -0.9, -5.6, 1.8, 9.0, 0.7],
  [10615, 0.4, -1.6, 3.8, 6.1, 2.2, -3.0, 7.4, -8.4],
  [10640, 4.8, 1.7, -0.3, 2.9, -1.9, 5.4, 11.0, 0.0],
  [10665, -1.8, 3.3, 5.9, 0.3, 4.0, -4.2, 1.1, 8.9],
  [10690, 2.0, -0.6, 1.5, 6.8, -2.7, 3.1, -6.7, 14.8],
  [10715, 5.2, 2.5, -1.2, 4.2, 0.6, 8.1, -3.8, 1.6],
  [10740, 0.9, 4.2, 2.7, -0.2, 6.3, -5.4, 9.8, -1.1],
  [10765, 3.5, -2.2, 0.2, 5.0, 1.8, -0.8, 7.0, -9.6],
  [10790, 1.3, 6.0, 3.4, -1.4, -3.4, 2.4, 10.1, 4.7],
  [10815, 4.1, 0.8, -2.1, 2.6, 8.5, -0.5, -5.9, 1.0],
  [10840, -0.1, 3.1, 5.5, 1.2, -1.6, 6.7, 0.2, 12.6],
  [10865, 2.7, -1.1, 4.0, 0.0, 2.0, -7.2, 9.2, 5.8],
  [10890, 4.9, 1.9, -0.7, 3.8, -4.4, 7.7, 1.2, -2.5],
  [10915, 0.7, 4.9, 2.1, -2.4, 5.6, 0.5, -8.2, 11.3],
  [10940, 3.3, -0.1, 6.5, 1.6, -3.6, 2.9, 8.4, -0.7],
  [10965, 5.9, 2.2, -1.9, 0.4, 4.3, -5.0, 13.1, 1.4],
  [10990, 1.1, 3.6, 0.3, 7.1, -0.9, 2.0, -6.3, 4.4],
  [11015, 3.8, -2.4, 5.2, 1.0, 9.3, -1.4, 0.7, -10.0],
  [11040, 0.0, 4.5, -0.6, 3.0, 1.7, 6.2, -4.6, 2.5],
  [11065, 2.6, 1.3, 4.8, -1.7, 7.9, -3.0, 0.4, 10.3],
  [11090, 5.1, -0.8, 2.3, 0.6, -5.2, 4.1, 11.9, -1.9],
  [11115, -1.1, 3.9, 6.1, 2.7, 0.2, -2.1, 8.8, -7.0],
  [11140, 3.4, 0.7, -3.5, 4.7, 1.4, 7.4, -0.3, 2.1],
  [11165, 1.5, 5.4, 2.5, -0.4, -4.0, 3.5, 10.6, -12.5],
  [11190, 4.2, -1.3, 0.9, 6.4, 2.8, -6.7, 5.1, 0.3],
  [11215, 0.8, 3.2, -2.0, 1.9, 8.7, 0.0, -3.7, 13.8],
  [11240, 6.6, 1.6, 4.3, -0.8, -1.5, 5.8, -8.1, 2.9],
  [11265, 2.2, -0.3, 0.6, 3.7, 6.9, -4.3, 9.7, 1.1],
  [11290, -0.6, 4.4, 7.3, 1.4, -2.9, 2.6, 0.0, -5.7],
  [11315, 3.0, 0.2, 2.2, 5.9, -0.7, -3.4, 11.4, 4.8],
  [11340, 5.4, 2.7, -1.4, 0.5, 3.9, 8.2, -6.5, -0.1],
  [11365, 1.7, -2.5, 4.9, 2.3, -0.2, 6.3, 1.0, -9.2],
  [11390, 3.9, 1.0, -0.9, 7.6, 4.6, -4.9, 10.5, 0.4],
  [11415, 0.1, 5.8, 2.9, -1.1, 1.6, -2.3, 6.8, 12.9],
  [11440, 4.6, -0.5, 1.3, 3.3, -5.8, 9.0, 0.5, 2.7],
  [11465, 2.4, 3.6, -2.7, 6.0, 0.8, -0.6, 4.1, -7.8],
  [11490, 6.1, 0.0, 4.6, -1.6, 2.1, 10.2, -4.2, 1.5],
  [11515, -1.2, 2.9, 0.4, 5.2, -3.1, 7.7, 3.3, -0.5],
  [11540, 3.2, 6.7, 1.8, -0.3, 4.5, -6.1, 11.8, 0.9],
  [11565, 1.0, -1.8, 5.5, 2.4, -0.9, 3.0, 8.3, -10.8],
  [11590, 4.5, 2.0, -2.3, 0.2, 6.6, 1.4, -5.1, 13.2],
  [11615, 0.5, 3.8, 7.0, -1.0, 2.6, -3.9, 9.5, 5.0],
  [11640, 2.8, -0.7, 1.1, 4.8, -2.1, 0.3, 6.2, -8.7],
  [11665, 5.7, 1.5, 3.7, -0.2, -4.7, 2.3, 10.9, 0.8],
  [11690, -0.5, 4.1, 2.0, 6.5, 1.0, -1.5, 8.6, -6.0],
  [11715, 3.5, 0.6, -3.2, 2.8, 5.4, -0.4, 12.4, 1.9],
  [11740, 1.3, 5.0, 0.7, -1.9, 7.9, 3.4, -4.4, -0.9],
  [11765, 4.0, -1.4, 6.3, 1.7, -0.6, 2.5, 9.1, -11.6],
  [11790, 0.3, 2.4, -2.5, 4.2, 0.9, 6.8, -7.3, 3.6],
  [11815, 6.4, 1.2, 3.1, -0.7, 5.1, -3.5, 1.5, 11.1],
  [11840, 2.0, -1.6, 0.0, 5.7, 2.9, -5.4, 8.0, 0.5],
  [11865, -1.9, 4.3, 1.6, 3.5, -2.4, 7.2, 0.2, 14.3],
  [11890, 3.6, 0.4, 5.6, -0.1, 1.8, -4.0, 10.0, -7.9],
  [11915, 1.9, 6.2, -1.2, 2.7, 4.4, -0.8, -2.9, 9.4],
  [11940, 4.7, 0.8, 2.4, -3.8, 6.0, 1.1, -9.0, 3.1],
  [11965, 0.6, 3.0, -0.4, 7.4, -1.7, 4.9, 12.0, -5.3],
  [11990, 2.9, -2.7, 5.0, 1.3, 0.1, 8.7, -0.5, 3.7],
  [12015, 5.3, 1.9, -1.0, 3.9, -4.5, 2.2, 10.8, -6.8],
  [12040, -0.2, 4.6, 6.9, 0.7, 2.3, -2.2, 8.5, 1.2],
  [12065, 3.1, -0.9, 1.5, 5.5, -6.4, 3.4, 0.0, 13.4],
  [12090, 1.6, 5.3, -2.0, 2.1, 7.3, -0.3, -3.6, 4.5],
  [12115, 4.4, 0.3, 3.8, -1.5, 1.0, 9.8, -8.0, 2.6],
  [12140, 0.9, 2.7, -0.8, 6.2, -4.1, 4.0, 11.5, -0.6],
  [12165, 3.7, -1.9, 5.7, 1.6, -2.6, 7.0, 0.5, -10.5],
  [12190, 6.0, 1.0, 2.3, -0.4, 4.7, -5.5, 9.3, 2.9],
  [12215, -0.9, 3.6, 0.8, 4.9, 1.9, -3.3, 12.8, 6.7],
  [12240, 2.5, -0.2, 6.4, 3.0, -1.2, 8.0, -6.9, 1.0],
  [12265, 4.8, 2.2, -2.9, 0.6, 5.8, -0.7, 1.7, -8.5],
  [12290, 1.4, 5.5, 3.4, -1.7, 0.3, 7.6, -4.8, 10.4],
  [12315, 3.3, -0.8, 1.9, 6.1, -3.0, 2.7, 9.0, 0.4],
  [12340, 0.2, 4.2, -1.3, 2.5, 6.9, -5.9, 4.7, -0.3],
  [12360, 2.6, 6.5, 0.6, -2.2, 3.8, 8.9, -7.1, 1.1]
];

// isolated points read one by one: [T4, MAS]
var outliers = [
  [630, 17.9], [660, 13.2], [670, 39.3], [626, -13.1], [647, -11.2], [674, -12.1], [790, 4.1], [845, -1.2],
  [1026, 18.3], [979, 15.6], [1242, 16.1], [1436, 15.7], [1610, 16.8], [2183, 26.2], [2368, 29.0],
  [2316, 17.6], [2700, 13.7], [2941, 16.3], [3279, 17.6], [3426, 17.6], [3541, 22.3], [3731, 20.1],
  [3731, 43.0], [3747, 46.0], [3780, 46.5], [3747, 28.8], [1068, -15.2], [1373, -16.8], [1725, -20.0],
  [1820, -20.9], [1953, -14.4], [2237, -18.1], [2215, -16.5], [2526, -16.8], [2484, -15.8], [2415, -12.8],
  [2794, -12.2], [3231, -13.7], [3216, -15.4], [3536, -20.6], [3457, -15.0], [3726, -14.0], [1384, -10.3],
  [1531, -13.8], [1847, -13.1], [999, -10.9], [3153, -9.2], [3595, -11.5],
  [4600, 22.0], [5215, 24.6], [5973, 23.9], [7152, 23.3], [7510, 24.3], [7626, 24.8], [8594, 23.7],
  [9042, 24.0], [8952, 20.7], [9047, 18.4], [9205, 18.8], [8594, 17.7], [10700, 47.1], [10942, 46.9],
  [10942, 40.9], [10942, 33.6], [10942, 32.4], [10942, 27.8], [10942, 24.9], [11016, 19.9], [10930, 50.6],
  [10975, 50.6], [12042, 38.1], [11452, 28.3], [12158, 23.8], [12005, 16.4], [11132, 17.0], [10795, 17.1],
  [10457, 16.0], [9905, 17.1], [9516, 16.9], [11384, 15.2], [9321, 16.9], [5480, 17.5], [6250, 16.2],
  [6900, 18.1], [7400, 15.9], [8240, 17.2], [5050, 16.6], [4850, 18.9], [6600, 15.4],
  [4583, -27.2], [5183, -24.2], [5546, -24.6], [5973, -17.3], [5990, -19.6], [6253, -21.8], [6410, -16.7],
  [6868, -28.7], [6853, -22.7], [7120, -17.3], [7530, -18.2], [7925, -17.4], [8040, -21.1], [8385, -17.6],
  [8430, -22.2], [8420, -14.3], [4600, -15.9], [5005, -13.3], [5350, -14.8], [5730, -13.8], [6536, -14.1],
  [7390, -14.3], [7785, -13.4], [9936, -18.0], [9174, -20.8], [9174, -22.8], [9162, -17.6], [9162, -15.8],
  [9584, -21.0], [9789, -14.5], [9789, -16.2], [11278, -21.7], [11294, -16.9], [11442, -16.4],
  [11452, -24.8], [11452, -27.5], [11452, -13.1], [11894, -20.2], [11889, -15.5], [12037, -19.2],
  [12037, -28.0], [12027, -16.5], [11057, -15.5], [8869, -18.7], [8869, -13.2], [8831, -17.6],
  [8594, -16.2], [10500, -13.3], [10448, -14.7], [10690, -12.9], [10173, -13.8], [12200, -12.2], [12358, -7.6]
];

var points = [];
bandA.concat(bandB, bandC).forEach(function (row) {
  for (var i = 1; i < row.length; i++) points.push([row[0], row[i]]);
});
outliers.forEach(function (p) { points.push(p); });

var black = "#000";
var labelFont = "DejaVu Sans";
var monoFont = "Liberation Mono";

function frameAxis(pos, split, tickLen, extra) {
  var horiz = pos === "top" || pos === "bottom";
  var ax = {
    type: "value",
    position: pos,
    min: horiz ? xMin : yMin,
    max: horiz ? xMax : yMax,
    splitNumber: split,
    axisLine: { show: true, onZero: false, lineStyle: { color: black, width: 1 } },
    axisTick: { show: true, inside: true, length: tickLen, lineStyle: { color: black, width: 1 } },
    axisLabel: { show: false },
    splitLine: { show: false },
  };
  return Object.assign(ax, extra || {});
}

var myChart = echarts.init(document.getElementById("ec"));
myChart.setOption({
  animation: false,
  backgroundColor: "#fff",
  title: {
    text: "Along scan attitude difference",
    left: "center",
    top: 8,
    textStyle: { fontFamily: monoFont, fontSize: 15, fontWeight: "normal", color: black },
  },
  grid: { left: 53, right: 51, top: 48, bottom: 61 },
  xAxis: [
    frameAxis("bottom", 5, 7, {
      name: "T4",
      nameLocation: "middle",
      nameGap: 36,
      nameTextStyle: { fontFamily: monoFont, fontSize: 14, color: black },
      axisLabel: {
        show: true,
        margin: 8,
        fontFamily: labelFont,
        fontSize: 14,
        color: black,
        formatter: function (v) {
          if (xTickLabels.indexOf(v) < 0) return "";
          if (v === 10000) return "{n|10}{s|4}";
          if (v === 12000) return "{n|1.2\u00d710}{s|4}";
          return String(v);
        },
        rich: {
          n: { fontFamily: labelFont, fontSize: 14, color: black, lineHeight: 18 },
          s: { fontFamily: labelFont, fontSize: 10, color: black, verticalAlign: "top" },
        },
      },
    }),
    frameAxis("bottom", 10, 3.5),
    frameAxis("top", 5, 7),
    frameAxis("top", 10, 3.5),
  ],
  yAxis: [
    frameAxis("left", 5, 7, {
      name: "MAS",
      nameLocation: "middle",
      nameGap: 30,
      nameTextStyle: { fontFamily: monoFont, fontSize: 14, color: black },
      axisLabel: {
        show: true,
        rotate: 90,
        margin: 7,
        fontFamily: labelFont,
        fontSize: 14,
        color: black,
        formatter: function (v) {
          if (yTickLabels.indexOf(v) < 0) return "";
          return String(v).replace("-", "\u2212");
        },
      },
    }),
    frameAxis("left", 10, 3.5),
    frameAxis("right", 5, 7),
    frameAxis("right", 10, 3.5),
  ],
  series: [
    {
      name: "attitude",
      type: "scatter",
      xAxisIndex: 0,
      yAxisIndex: 0,
      data: points,
      symbol: "rect",
      symbolSize: 3,
      itemStyle: { color: black },
      progressive: 0,
      silent: true,
      markLine: {
        silent: true,
        symbol: ["none", "none"],
        label: { show: false },
        lineStyle: { color: "#111", width: 1, type: [1, 2], opacity: 0.85 },
        data: orbitLines.map(function (v) { return { xAxis: v }; }),
      },
    },
  ],
  graphic: [
    {
      type: "text",
      right: 15,
      top: 556,
      style: { text: "(c)  TU Delft", font: '13px "Liberation Mono"', fill: black },
    },
    {
      type: "text",
      right: 15,
      top: 573,
      style: { text: "3-NOV-1996", font: '7px "DejaVu Sans"', fill: black },
    },
  ],
});
</script>
</body>
</html>
